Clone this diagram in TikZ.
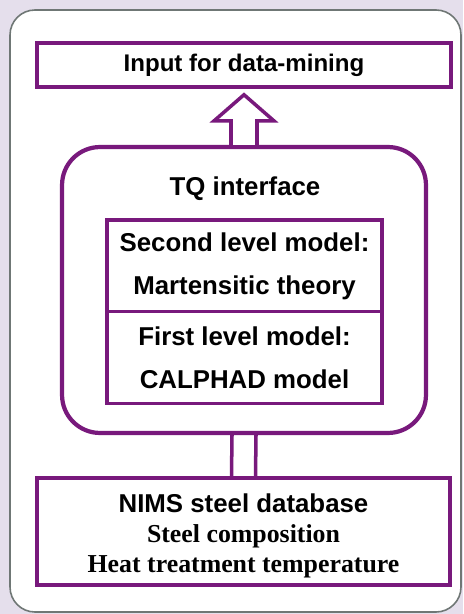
\documentclass[tikz,border=0pt]{standalone}
\usepackage{fontspec}
\setmainfont{Liberation Serif}
\setsansfont{Liberation Sans}
\usepackage{tikz}
\usetikzlibrary{calc}
\definecolor{boxpurple}{HTML}{78197C}
\definecolor{pagebg}{HTML}{E5DFEC}
\definecolor{framegray}{HTML}{6F7775}
\tikzstyle{flowbox}=[draw=boxpurple, line width=2pt, fill=white, inner sep=0pt, align=center, font=\sffamily\bfseries\fontsize{14.7}{17}\selectfont]
\tikzstyle{modelbox}=[flowbox, minimum width=5.5cm, minimum height=1.84cm, font=\sffamily\bfseries\fontsize{14.7}{24.4}\selectfont]
\tikzstyle{tqbox}=[draw=boxpurple, line width=2.4pt, fill=white, rounded corners=0.76cm]
\tikzstyle{plainlabel}=[inner sep=0pt, font=\sffamily\bfseries\fontsize{14.7}{17}\selectfont]
\tikzstyle{hollowarrow}=[draw=boxpurple, line width=2pt, fill=white, line join=miter]
\tikzstyle{link}=[draw=boxpurple, line width=2pt]

\begin{document}
\begin{tikzpicture}[x=0.02cm,y=-0.02cm]
		\useasboundingbox (0,0) rectangle (463,614);
		\fill[pagebg] (0,0) rectangle (463,614);
		\draw[framegray, line width=0.9pt, fill=white, rounded corners=0.5cm] (10,10) rectangle (461,612);
		% boxes
		\node[flowbox, minimum width=8.28cm, minimum height=0.88cm, font=\sffamily\bfseries\fontsize{13.7}{16}\selectfont] (input) at (244,65) {Input for data-mining};
		\node[tqbox, minimum width=7.28cm, minimum height=5.72cm] (tq) at (244,290) {};
		\node[plainlabel] (tqlabel) at (245,189) {TQ interface};
		\node[modelbox] (second) at (244.5,266) {Second level model:\\Martensitic theory};
		\node[modelbox] (first) at (244.5,357.5) {First level model:\\CALPHAD model};
		\node[flowbox, minimum width=8.26cm, minimum height=2.14cm] (db) at (243.5,531.5) {\rule{0pt}{16pt}NIMS steel database\\{\rmfamily Steel composition}\\{\rmfamily Heat treatment temperature}};
		% arrows
		\coordinate (tip) at ($(input.south)+(0,6)$);
		\draw[hollowarrow] ($(tq.north)+(-13,0)$) -- ($(tq.north)+(-13,-24)$) -- ($(tq.north)+(-30,-24)$) -- (tip) -- ($(tq.north)+(30,-24)$) -- ($(tq.north)+(13,-24)$) -- ($(tq.north)+(13,0)$);
		\draw[link] ($(tq.south)+(-12,0)$) -- ($(db.north)+(-12,0)$);
		\draw[link] ($(tq.south)+(12,0)$) -- ($(db.north)+(12,0)$);
	\end{tikzpicture}
\end{document}
